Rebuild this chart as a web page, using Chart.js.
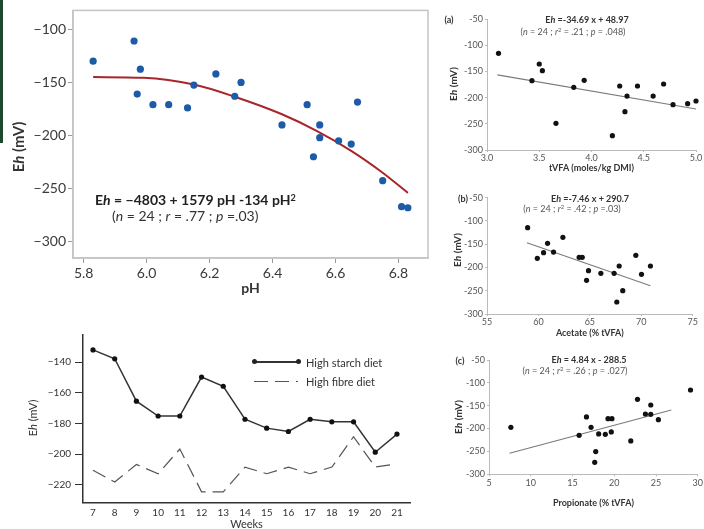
<!DOCTYPE html>
<html>
<head>
<meta charset="utf-8">
<script src="https://cdn.jsdelivr.net/npm/chart.js@4.4.1/dist/chart.umd.min.js"></script>
<style>
  body { margin: 0; background: #fff; }
  #wrap { position: relative; width: 704px; height: 529px; overflow: hidden; font-family: Lato, sans-serif; }
  canvas { position: absolute; }
  .t { position: absolute; white-space: nowrap; line-height: 1; color: #222; }
  .c { transform: translate(-50%, -50%); }
  .l { transform: translateY(-50%); }
  .r { transform: translate(-50%, -50%) rotate(-90deg); }
  sup { font-size: 0.65em; vertical-align: 0.45em; line-height: 0; }
</style>
</head>
<body>
<div id="wrap">
  <div style="position:absolute;left:0;top:0;width:3px;height:143px;background:#1d4a2c"></div>

  <canvas id="main" width="432" height="300" style="left:0;top:0"></canvas>
  <canvas id="pa" width="274" height="177" style="left:430px;top:0"></canvas>
  <canvas id="pb" width="274" height="162" style="left:430px;top:180px"></canvas>
  <canvas id="pc" width="274" height="170" style="left:430px;top:342px"></canvas>
  <canvas id="wk" width="420" height="206" style="left:0;top:325px"></canvas>

  <!-- main panel text -->
  <div class="t r" style="left:18px;top:147px;font-size:15px;font-weight:bold;color:#333">E<i>h</i> (mV)</div>
  <div class="t l" style="left:95px;top:200px;font-size:14px;font-weight:bold;color:#222">E<i>h</i> = &minus;4803 + 1579 pH -134 pH<sup>2</sup></div>
  <div class="t l" style="left:112px;top:216px;font-size:14px;color:#333">(<i>n</i> = 24 ; <i>r</i> = .77 ; <i>p</i> =.03)</div>

  <!-- (a) -->
  <div class="t c" style="left:449px;top:19px;font-size:9px;font-weight:bold;color:#333">(a)</div>
  <div class="t c" style="left:587px;top:19px;font-size:9px;font-weight:bold;color:#333">E<i>h</i> =-34.69 x + 48.97</div>
  <div class="t c" style="left:573px;top:31px;font-size:9px;color:#555">(<i>n</i> = 24 ; <i>r</i><sup>2</sup> = .21 ; <i>p</i> = .048)</div>
  <div class="t r" style="left:453px;top:84px;font-size:10px;font-weight:bold;color:#333">E<i>h</i> (mV)</div>

  <!-- (b) -->
  <div class="t c" style="left:463px;top:198px;font-size:9px;font-weight:bold;color:#333">(b)</div>
  <div class="t c" style="left:590px;top:198px;font-size:9px;font-weight:bold;color:#333">E<i>h</i> =-7.46 x + 290.7</div>
  <div class="t c" style="left:572px;top:208px;font-size:9px;color:#555">(<i>n</i> = 24 ; <i>r</i><sup>2</sup> = .42 ; <i>p</i> =.03)</div>
  <div class="t r" style="left:457px;top:250px;font-size:10px;font-weight:bold;color:#333">E<i>h</i> (mV)</div>

  <!-- (c) -->
  <div class="t c" style="left:460px;top:360px;font-size:9px;font-weight:bold;color:#333">(c)</div>
  <div class="t c" style="left:589px;top:359px;font-size:9px;font-weight:bold;color:#333">E<i>h</i> = 4.84 x - 288.5</div>
  <div class="t c" style="left:575px;top:370px;font-size:9px;color:#555">(<i>n</i> = 24 ; <i>r</i><sup>2</sup> = .26 ; <i>p</i> = .027)</div>
  <div class="t r" style="left:458px;top:417px;font-size:10px;font-weight:bold;color:#333">E<i>h</i> (mV)</div>

  <!-- weeks panel -->
  <div class="t r" style="left:32px;top:418px;font-size:11px;color:#333">E<i>h</i> (mV)</div>
  <div style="position:absolute;left:254px;top:361px;width:44px;height:1.5px;background:#333"></div>
  <div style="position:absolute;left:252px;top:359px;width:5px;height:5px;border-radius:50%;background:#222"></div>
  <div style="position:absolute;left:296px;top:359px;width:5px;height:5px;border-radius:50%;background:#222"></div>
  <div class="t l" style="left:306px;top:362px;font-size:11px;color:#333">High starch diet</div>
  <div style="position:absolute;left:254px;top:380.5px;width:44px;height:1.2px;background:repeating-linear-gradient(to right,#555 0 14px,transparent 14px 21px)"></div>
  <div class="t l" style="left:306px;top:381px;font-size:11px;color:#333">High fibre diet</div>
</div>

<script>
// Eh vs ruminal pH (main panel)
const phVals = [5.83, 5.96, 5.98, 5.97, 6.02, 6.07, 6.13, 6.15, 6.22, 6.28, 6.30, 6.43, 6.51, 6.55, 6.55, 6.53, 6.61, 6.65, 6.67, 6.75, 6.81, 6.83];
const ehPh = [-130, -111, -137.5, -161, -171, -171, -174, -152.5, -142, -163, -150, -190, -171, -190, -202, -220, -205, -208, -168.5, -242.5, -267, -268];
const curvePh = [5.83, 5.99, 6.15, 6.275, 6.43, 6.54, 6.65, 6.75, 6.83];
const curveEh = [-145, -145.7, -152, -163, -180, -195.6, -214.4, -235, -254];
const phTicks = [5.8, 6.0, 6.2, 6.4, 6.6, 6.8];

// (a) tVFA
const tvfa = [3.11, 3.43, 3.50, 3.53, 3.66, 3.83, 3.93, 4.20, 4.27, 4.32, 4.34, 4.44, 4.59, 4.69, 4.78, 4.92, 5.00];
const ehA = [-115.5, -167.7, -135.9, -148.6, -249.1, -180.4, -167, -272.6, -177.9, -226.8, -197, -177.9, -197, -174, -213.5, -211.6, -206.5];
const fitAx = [3.10, 5.00];
const fitAy = [-156.6, -221.8];

// (b) acetate
const acetate = [58.95, 59.89, 60.50, 60.89, 61.47, 62.38, 63.96, 64.26, 64.87, 64.68, 66.07, 67.36, 67.85, 67.62, 68.20, 69.47, 70.02, 70.89];
const ehB = [-114.5, -180.4, -168.2, -148.1, -166.8, -135.2, -178.2, -178.2, -206.9, -227.7, -212.6, -212.6, -196.8, -274.2, -249.9, -173.9, -214.8, -196.8];
const fitBx = [58.88, 70.89];
const fitBy = [-146.7, -239.1];

// (c) propionate
const propionate = [7.62, 15.79, 16.67, 17.22, 17.78, 17.66, 18.13, 18.93, 19.25, 19.72, 19.64, 21.98, 22.78, 23.73, 24.37, 24.37, 25.28, 29.13];
const ehC = [-197.2, -214.7, -174.6, -197.2, -250.4, -273.8, -211.8, -212.5, -178.3, -178.3, -207.4, -227.1, -136, -168.1, -148.4, -168.8, -180.5, -115.6];
const fitCx = [7.46, 26.83];
const fitCy = [-254.1, -159.3];

// weekly Eh by diet
const weeks = [7, 8, 9, 10, 11, 12, 13, 14, 15, 16, 17, 18, 19, 20, 21];
const starch = [-132, -137.8, -165.4, -175.1, -175.1, -149.7, -155.7, -177.2, -183, -185.2, -177.2, -178.9, -178.9, -198.7, -186.9];
const fibre = [-210.5, -218.1, -206.7, -212.7, -196.6, -224.5, -224.5, -208.4, -212.7, -208.4, -212.7, -208.4, -188.6, -208.4, -206.2];

const pairs = (xs, ys) => xs.map((x, i) => ({ x: x, y: ys[i] }));
const noPlugins = { legend: { display: false }, tooltip: { enabled: false } };

// light grey box round the plot area of the main panel
const framePlugin = {
  id: 'frame',
  afterDraw(chart) {
    const a = chart.chartArea, ctx = chart.ctx;
    ctx.save();
    ctx.strokeStyle = '#c4c4c4';
    ctx.lineWidth = 1.5;
    ctx.strokeRect(a.left, a.top, a.right - a.left, a.bottom - a.top);
    ctx.restore();
  }
};

new Chart(document.getElementById('main'), {
  type: 'scatter',
  data: {
    datasets: [
      { data: pairs(phVals, ehPh), pointRadius: 3.6, backgroundColor: '#1d5aa8', borderWidth: 0, clip: false },
      { data: pairs(curvePh, curveEh), showLine: true, pointRadius: 0, borderColor: '#a8262b', borderWidth: 2, cubicInterpolationMode: 'monotone' }
    ]
  },
  options: {
    responsive: false, animation: false,
    layout: { padding: { top: 9, right: 4, left: 0, bottom: 0 } },
    plugins: noPlugins,
    scales: {
      x: {
        type: 'linear', min: 5.766, max: 6.894,
        afterFit: s => { s.height = 42; },
        afterBuildTicks: s => { s.ticks = phTicks.map(v => ({ value: v })); },
        ticks: { color: '#3a3a3a', font: { family: 'Lato', size: 14 }, padding: 2, maxRotation: 0, callback: v => v.toFixed(1) },
        grid: { drawOnChartArea: false, tickLength: 5, color: '#999' },
        border: { color: '#c4c4c4', width: 1.5 },
        title: { display: true, text: 'pH', color: '#333', font: { family: 'Lato', size: 14, weight: 'bold' }, padding: { top: 0, bottom: 3 } }
      },
      y: {
        min: -315.3, max: -82.2,
        afterFit: s => { s.width = 73; },
        ticks: { stepSize: 50, includeBounds: false, color: '#3a3a3a', font: { family: 'Lato', size: 14 }, padding: 2, callback: v => '\u2212' + Math.abs(v) },
        grid: { drawOnChartArea: false, tickLength: 5, color: '#999' },
        border: { color: '#c4c4c4', width: 1.5 }
      }
    }
  },
  plugins: [framePlugin]
});

function scatterPanel(id, xs, ys, fx, fy, sc) {
  return new Chart(document.getElementById(id), {
    type: 'scatter',
    data: {
      datasets: [
        { data: pairs(xs, ys), pointRadius: 2.6, backgroundColor: '#111', borderWidth: 0, clip: false },
        { data: pairs(fx, fy), showLine: true, pointRadius: 0, borderColor: '#7a7a7a', borderWidth: 1.1 }
      ]
    },
    options: {
      responsive: false, animation: false,
      layout: { padding: { top: sc.top, right: sc.right, left: 0, bottom: 0 } },
      plugins: noPlugins,
      scales: {
        x: {
          type: 'linear', min: sc.xMin, max: sc.xMax,
          afterFit: s => { s.height = sc.xh; },
          ticks: { stepSize: sc.xStep, color: '#555', font: { family: 'Lato', size: 9 }, padding: 1, maxRotation: 0, callback: sc.xFmt },
          grid: { drawOnChartArea: false, tickLength: 2, color: '#bbb' },
          border: { color: '#bbb' },
          title: { display: true, text: sc.xTitle, color: '#333', font: { family: 'Lato', size: 9, weight: 'bold' }, padding: { top: 0, bottom: sc.tb } }
        },
        y: {
          min: -300, max: -50,
          afterFit: s => { s.width = sc.yw; },
          ticks: { stepSize: 50, color: '#555', font: { family: 'Lato', size: 9 }, padding: 2 },
          grid: { drawOnChartArea: false, tickLength: 2, color: '#bbb' },
          border: { color: '#bbb' }
        }
      }
    }
  });
}

scatterPanel('pa', tvfa, ehA, fitAx, fitAy, {
  top: 19, right: 8, yw: 57, xh: 27, tb: 4,
  xMin: 3, xMax: 5, xStep: 0.5, xFmt: v => v.toFixed(1), xTitle: 'tVFA (moles/kg DMI)'
});
scatterPanel('pb', acetate, ehB, fitBx, fitBy, {
  top: 17.7, right: 11.3, yw: 57, xh: 28, tb: 4,
  xMin: 55, xMax: 75, xStep: 5, xFmt: v => v, xTitle: 'Acetate (% tVFA)'
});
scatterPanel('pc', propionate, ehC, fitCx, fitCy, {
  top: 18, right: 5.7, yw: 59, xh: 37.7, tb: 4,
  xMin: 5, xMax: 30, xStep: 5, xFmt: v => v, xTitle: 'Propionate (% tVFA)'
});

new Chart(document.getElementById('wk'), {
  type: 'line',
  data: {
    datasets: [
      { label: 'High starch diet', data: pairs(weeks, starch), borderColor: '#333', borderWidth: 1.5, pointRadius: 2.6, pointBackgroundColor: '#111', pointBorderWidth: 0, tension: 0, clip: false },
      { label: 'High fibre diet', data: pairs(weeks, fibre), borderColor: '#555', borderWidth: 1.2, borderDash: [14, 7], pointRadius: 0, tension: 0 }
    ]
  },
  options: {
    responsive: false, animation: false,
    layout: { padding: { top: 8.3, right: 10, left: 0, bottom: 0 } },
    plugins: noPlugins,
    scales: {
      x: {
        type: 'linear', min: 6.54, max: 21.6,
        afterFit: s => { s.height = 28.3; },
        ticks: { stepSize: 1, includeBounds: false, color: '#333', font: { family: 'Lato', size: 10 }, padding: 4, maxRotation: 0 },
        grid: { display: false, drawTicks: false },
        border: { color: '#333', width: 1.5 },
        title: { display: true, text: 'Weeks', color: '#333', font: { family: 'Lato', size: 11 }, padding: { top: 0, bottom: 0 } }
      },
      y: {
        min: -231.6, max: -122.3,
        afterFit: s => { s.width = 83; },
        ticks: { stepSize: 20, includeBounds: false, color: '#333', font: { family: 'Lato', size: 10 }, padding: 4, callback: v => '\u2212' + Math.abs(v) },
        grid: { drawOnChartArea: false, tickLength: 8, color: '#333' },
        border: { color: '#333', width: 1.5 }
      }
    }
  }
});
</script>
</body>
</html>
